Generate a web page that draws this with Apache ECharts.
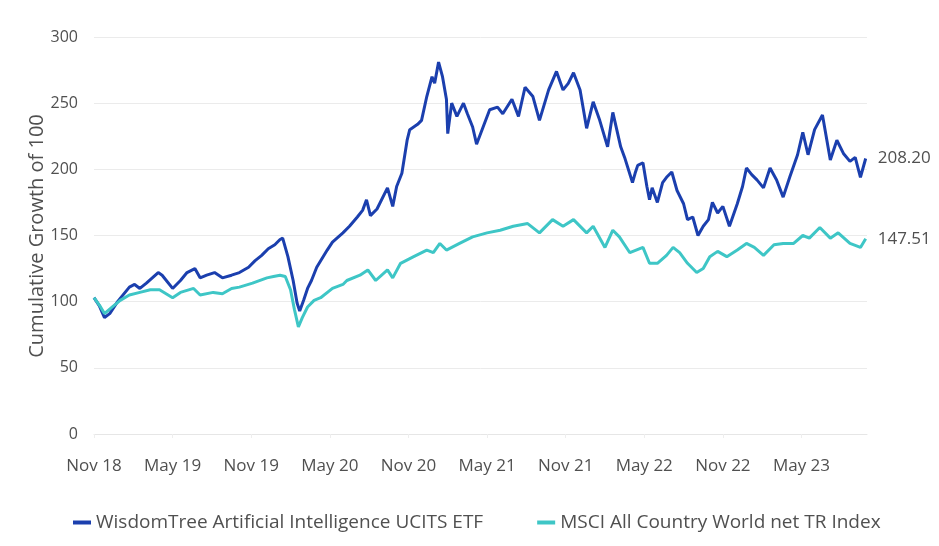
<!DOCTYPE html>
<html>
<head>
<meta charset="utf-8">
<script src="https://cdn.jsdelivr.net/npm/echarts@6/dist/echarts.min.js"></script>
<style>
  html, body { margin: 0; padding: 0; background: #fff; }
  #chart { width: 939px; height: 546px; }
</style>
</head>
<body>
<div id="chart"></div>
<script>
// x = months since end of Nov 2018
var tickLabels = ['Nov 18', 'May 19', 'Nov 19', 'May 20', 'Nov 20', 'May 21', 'Nov 21', 'May 22', 'Nov 22', 'May 23']

var etfMonths = [0, 0.4, 0.8, 1.2, 1.8, 2.7, 3.1, 3.5, 4.0, 4.9, 5.2, 6.0, 6.6, 7.1, 7.7, 8.1, 8.6, 9.2, 9.8, 10.5,
  11.1, 11.8, 12.3, 12.8, 13.3, 13.8, 14.2, 14.4, 14.8, 15.2, 15.5, 15.7, 16.0, 16.3, 16.6, 17.0, 17.8, 18.2, 19.0, 19.5,
  20.1, 20.5, 20.8, 21.1, 21.6, 22.4, 22.8, 23.1, 23.5, 23.9, 24.1, 24.7, 25.0, 25.4, 25.8, 26.0, 26.3, 26.6, 26.9, 27.0,
  27.3, 27.7, 28.2, 28.5, 28.9, 29.2, 29.7, 30.2, 30.8, 31.2, 31.9, 32.4, 32.9, 33.5, 34.0, 34.7, 35.3, 35.8, 36.2, 36.6,
  37.1, 37.6, 38.1, 38.6, 39.2, 39.6, 40.2, 40.5, 41.1, 41.3, 41.5, 41.9, 42.2, 42.4, 42.6, 43.0, 43.4, 43.7, 44.1, 44.5,
  45.0, 45.3, 45.7, 46.1, 46.5, 46.9, 47.2, 47.6, 48.0, 48.5, 49.1, 49.5, 49.8, 50.2, 50.6, 51.1, 51.6, 52.1, 52.6, 53.1,
  53.7, 54.1, 54.5, 55.0, 55.6, 56.2, 56.7, 57.2, 57.7, 58.1, 58.5, 58.9]
var etfValues = [103, 97, 88, 91, 100, 111, 113, 110, 114, 122, 120, 110, 116, 122, 125, 118, 120, 122, 118, 120,
  122, 126, 131, 135, 140, 143, 147, 148, 134, 116, 99, 93, 101, 110, 116, 126, 139, 145, 152, 157,
  164, 169, 177, 165, 170, 186, 172, 187, 197, 222, 230, 234, 237, 255, 270, 265, 281, 270, 253, 227,
  250, 240, 250, 242, 232, 219, 232, 245, 247, 242, 253, 240, 262, 255, 237, 260, 274, 260, 265, 273,
  260, 231, 251, 237, 217, 243, 217, 209, 190, 197, 203, 205, 187, 177, 186, 175, 190, 194, 198, 184,
  174, 162, 164, 150, 157, 162, 175, 167, 172, 157, 174, 187, 201, 196, 192, 186, 201, 192, 179, 194,
  211, 228, 211, 230, 241, 207, 222, 212, 206, 209, 194, 208.2]

var msciMonths = [0, 0.5, 0.8, 1.4, 2.0, 2.7, 3.5, 4.3, 5.0, 6.0, 6.6, 7.6, 8.1, 9.1, 9.8, 10.5, 11.1, 12.1, 13.2, 13.7,
  14.2, 14.6, 15.0, 15.3, 15.6, 15.9, 16.3, 16.8, 17.3, 18.2, 19.0, 19.3, 20.3, 20.9, 21.5, 22.4, 22.8, 23.4, 24.4, 25.4,
  25.9, 26.4, 26.9, 27.9, 28.9, 30.0, 31.0, 32.0, 33.1, 34.0, 35.0, 35.8, 36.6, 37.6, 38.1, 39.0, 39.6, 40.1, 40.9, 41.9,
  42.4, 43.0, 43.7, 44.2, 44.7, 45.3, 46.0, 46.5, 47.0, 47.6, 48.3, 49.1, 49.8, 50.4, 51.1, 51.9, 52.6, 53.4, 54.1, 54.6,
  55.4, 56.2, 56.8, 57.7, 58.5, 58.9]
var msciValues = [103, 96, 91, 96, 101, 105, 107, 109, 109, 103, 107, 110, 105, 107, 106, 110, 111, 114, 118, 119,
  120, 119, 109, 94, 81, 88, 96, 101, 103, 110, 113, 116, 120, 124, 116, 124, 118, 129, 134, 139,
  137, 144, 139, 144, 149, 152, 154, 157, 159, 152, 162, 157, 162, 152, 157, 141, 154, 149, 137, 141,
  129, 129, 135, 141, 137, 129, 122, 125, 134, 138, 134, 139, 144, 141, 135, 143, 144, 144, 150, 148,
  156, 148, 152, 144, 141, 147.51]

var seriesNames = ['WisdomTree Artificial Intelligence UCITS ETF', 'MSCI All Country World net TR Index']
var yTitle = 'Cumulative Growth of 100'

function pairs(xs, ys) {
  return xs.map(function (x, i) { return [x, ys[i]] })
}

var chart = echarts.init(document.getElementById('chart'))
var txtColor = '#505050'
var font = 'Open Sans, sans-serif'

chart.setOption({
  animation: false,
  grid: { left: 94, right: 72, top: 37, bottom: 112 },
  graphic: [{
    type: 'text',
    x: 37,
    y: 236,
    rotation: Math.PI / 2,
    style: {
      text: yTitle,
      fill: txtColor,
      font: '20px Open Sans, sans-serif',
      align: 'center',
      verticalAlign: 'middle'
    }
  }],
  legend: {
    left: 68,
    bottom: 9,
    itemWidth: 18,
    itemHeight: 4,
    itemGap: 54,
    icon: 'rect',
    textStyle: { color: txtColor, fontSize: 19, fontFamily: font },
    data: seriesNames
  },
  xAxis: {
    type: 'value',
    min: 0,
    max: 59,
    interval: 6,
    splitLine: { show: false },
    axisLine: { lineStyle: { color: '#e6e6e6' } },
    axisTick: { show: true, length: 4, lineStyle: { color: '#eeeeee' } },
    axisLabel: {
      showMaxLabel: false,
      margin: 24,
      color: txtColor,
      fontSize: 17,
      fontFamily: font,
      formatter: function (v) {
        return v % 6 === 0 ? (tickLabels[v / 6] || '') : ''
      }
    }
  },
  yAxis: {
    type: 'value',
    min: 0,
    max: 300,
    interval: 50,
    axisLine: { show: false },
    axisTick: { show: false },
    splitLine: { lineStyle: { color: '#ebebeb' } },
    axisLabel: { color: txtColor, fontSize: 16, margin: 16, fontFamily: font }
  },
  series: [
    {
      name: seriesNames[0],
      type: 'line',
      showSymbol: false,
      color: '#1b3fae',
      lineStyle: { width: 3 },
      data: pairs(etfMonths, etfValues),
      endLabel: {
        show: true,
        distance: 12,
        color: txtColor,
        fontSize: 17,
        fontFamily: font,
        formatter: function (p) { return p.value[1].toFixed(2) }
      }
    },
    {
      name: seriesNames[1],
      type: 'line',
      showSymbol: false,
      color: '#3ec6c6',
      lineStyle: { width: 3 },
      data: pairs(msciMonths, msciValues),
      endLabel: {
        show: true,
        distance: 12,
        color: txtColor,
        fontSize: 17,
        fontFamily: font,
        formatter: function (p) { return p.value[1].toFixed(2) }
      }
    }
  ]
})
</script>
</body>
</html>
